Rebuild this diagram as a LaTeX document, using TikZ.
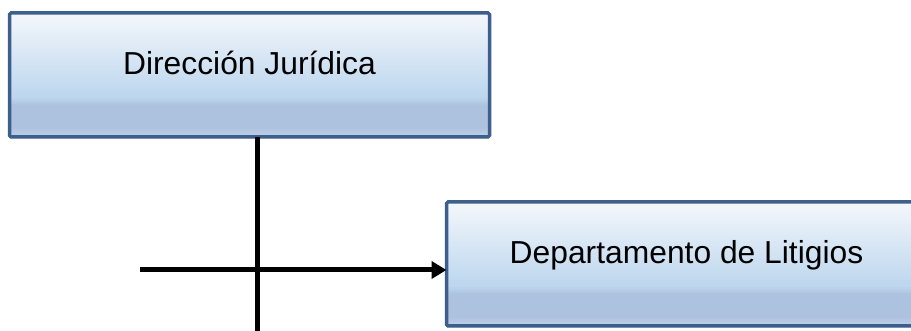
\documentclass[tikz,border=0pt]{standalone}
\usepackage{fontspec}
\setmainfont{Liberation Sans}
\usepackage{xcolor}
\usepackage{tikz}
\usetikzlibrary{shapes,arrows.meta,positioning,shadows}

\definecolor{boxtop}{HTML}{F4F7FB}
\definecolor{boxmid}{HTML}{BCD6EE}
\definecolor{boxband}{HTML}{ADC2DF}
\definecolor{boxfoot}{HTML}{BBCDE6}
\definecolor{boxline}{HTML}{3C5F8C}
\pgfdeclareverticalshading{unitfill}{100bp}{color(0bp)=(boxfoot); color(26bp)=(boxfoot);
    color(29bp)=(boxband); color(38bp)=(boxband); color(41bp)=(boxmid);
    color(75bp)=(boxtop); color(100bp)=(boxtop)}

\begin{document}
\begin{tikzpicture}[x=1pt, y=1pt]
    \tikzstyle{unit} = [rectangle, draw=boxline, line width=3.5pt, rounded corners=1.5pt,
        shading=unitfill, minimum width=480pt, minimum height=124pt, inner sep=0pt, outer sep=0pt,
        text height=22.8pt, text depth=24pt, font=\fontsize{31.8}{36}\selectfont,
        drop shadow={shadow xshift=-1pt, shadow yshift=-1.5pt, opacity=0.25}]
    \tikzstyle{wire} = [line width=5pt, black]
    \useasboundingbox (0,0) rectangle (911,-331);
    \node (juridica) [unit] at (249.5,-75) {Dirección Jurídica};
    \node (litigios) [unit, below right=65pt and -43pt of juridica] {Departamento de Litigios};
    % lines
    \coordinate (drop) at ([xshift=8pt]juridica.south);
    \coordinate (foot) at (drop |- 0,-331);
    \coordinate (feed) at (140,-270);
    \draw [wire] (drop) -- (foot);
    \draw [wire, -{Triangle[length=15pt, width=17pt]}] (feed) -- (feed -| litigios.west);
\end{tikzpicture}
\end{document}
